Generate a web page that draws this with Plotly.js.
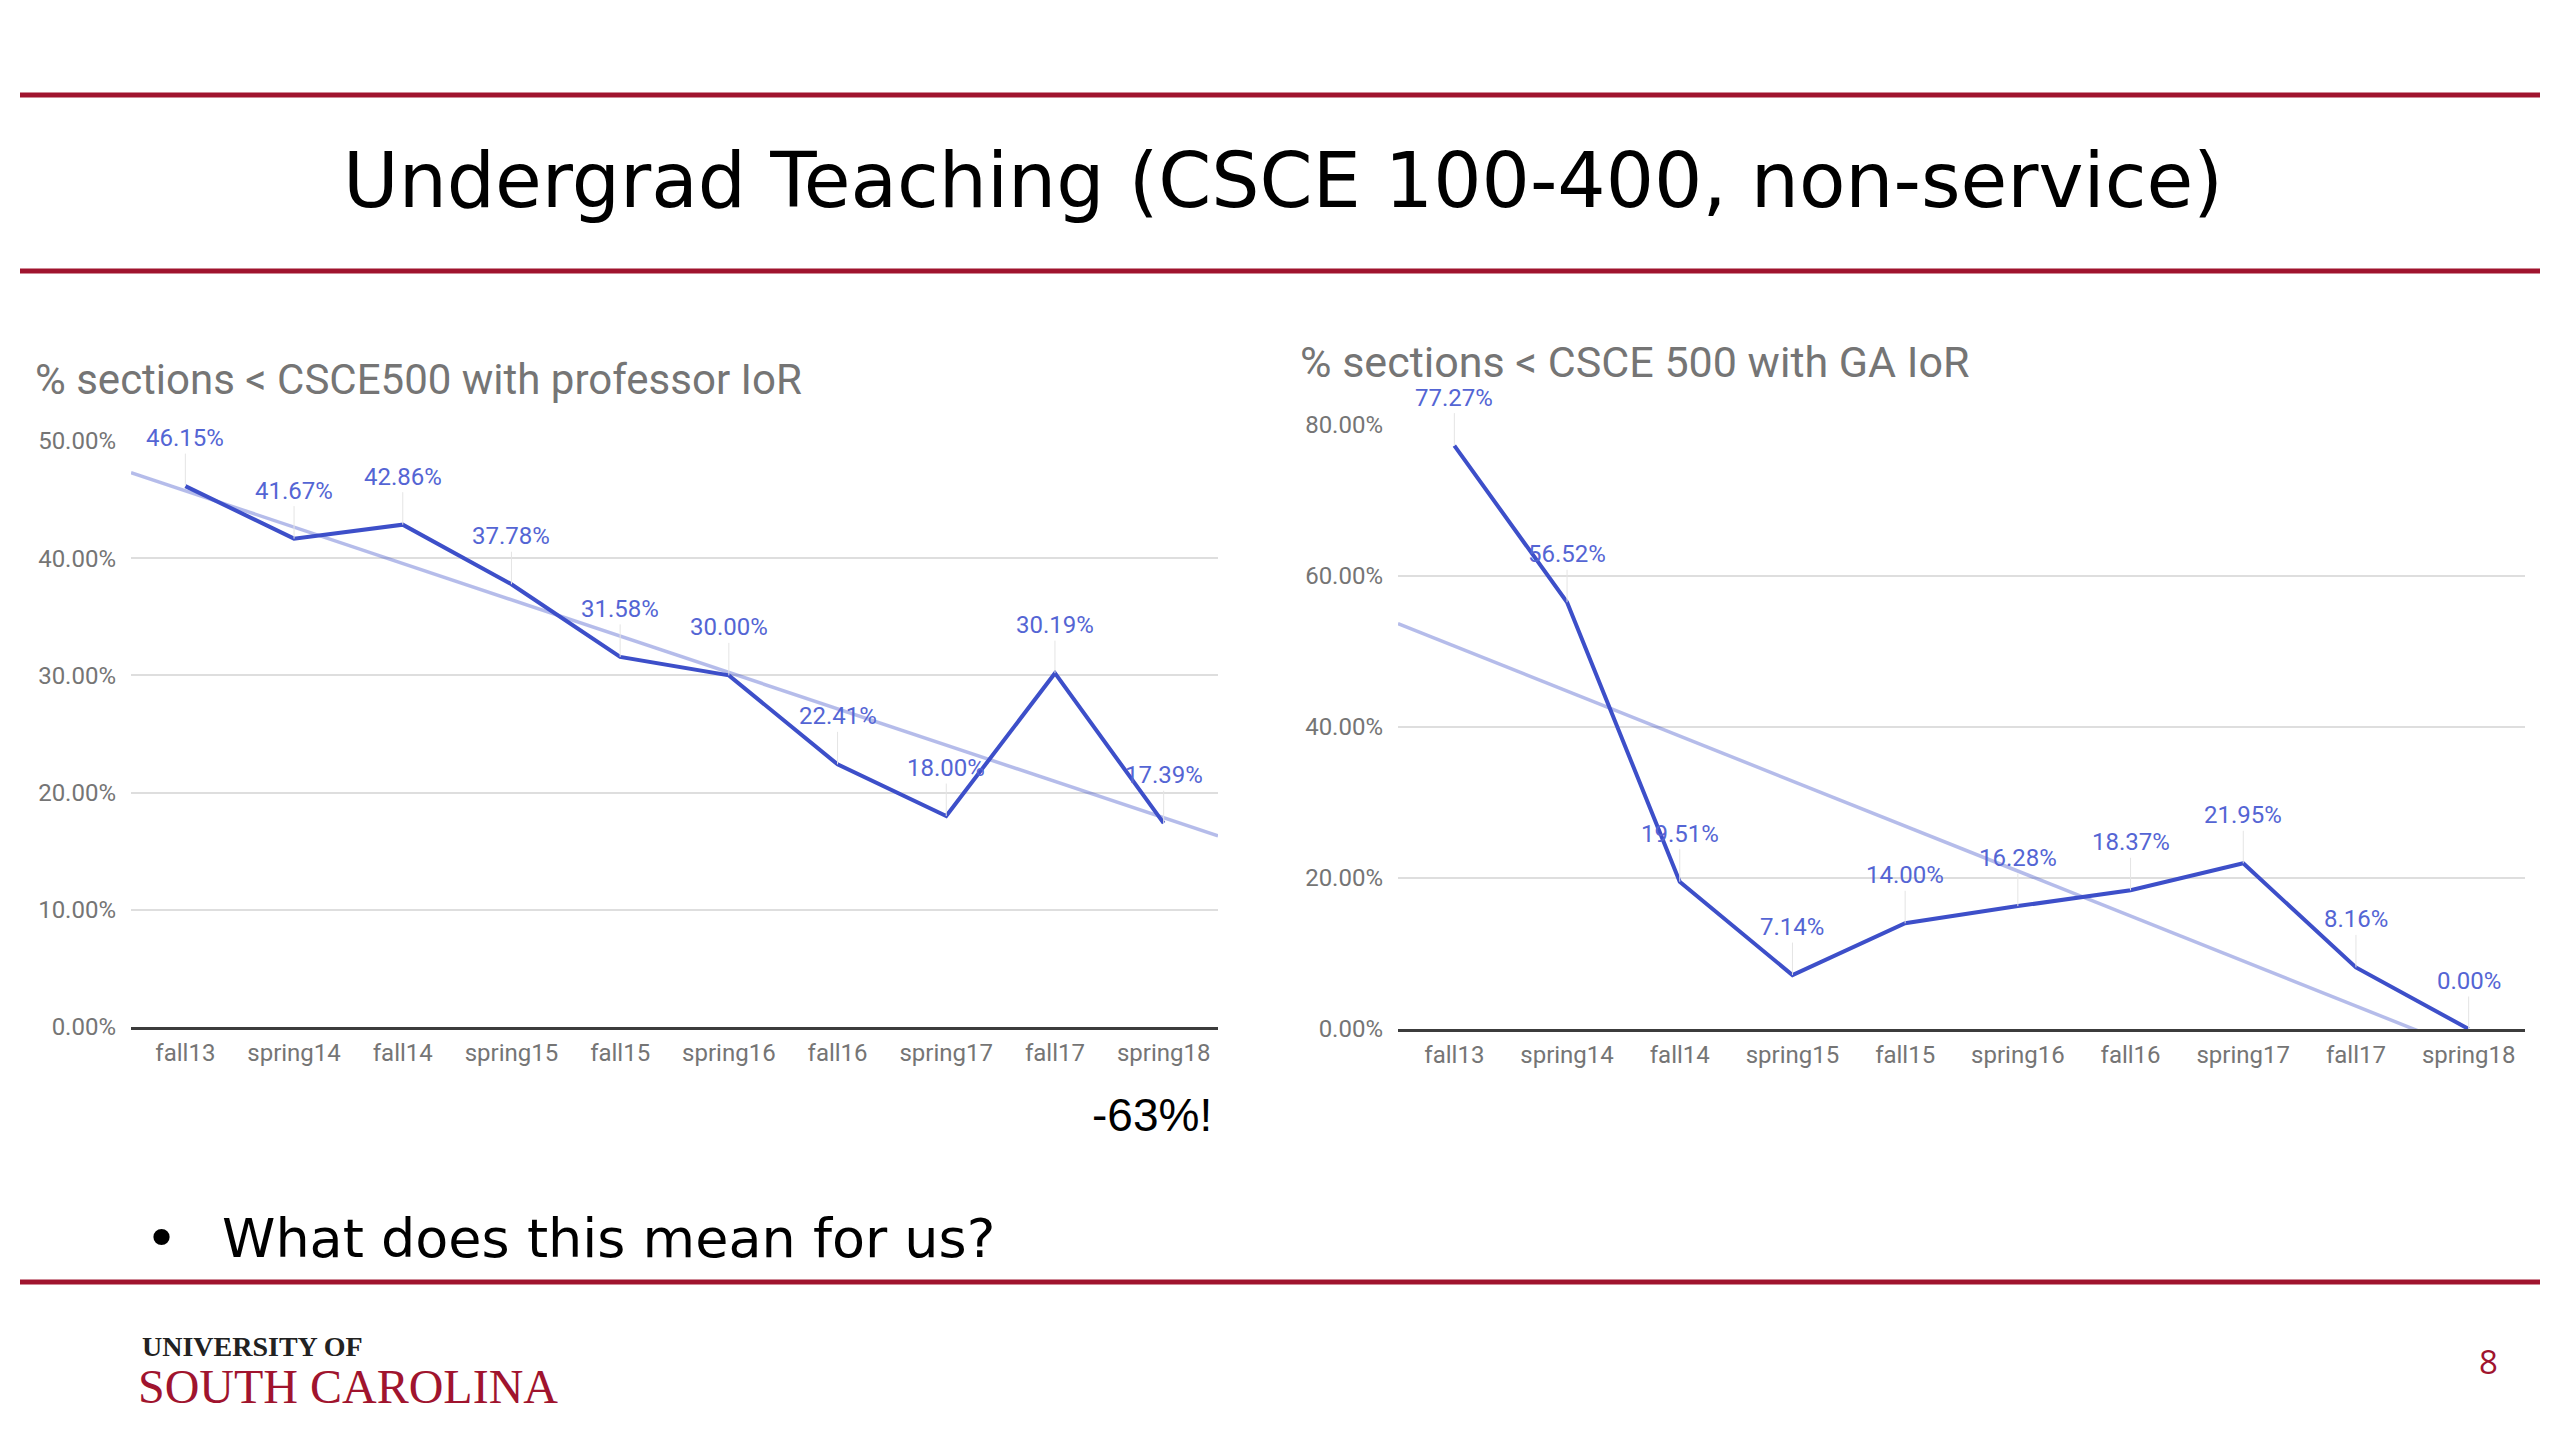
<!DOCTYPE html>
<html>
<head>
<meta charset="utf-8">
<script src="https://cdn.plot.ly/plotly-3.0.1.min.js"></script>
<style>
  html, body { margin: 0; padding: 0; background: #ffffff; }
  #slide { width: 2560px; height: 1444px; }
</style>
</head>
<body>
<div id="slide"></div>
<script>
// semesters on both charts
var terms = ['fall13', 'spring14', 'fall14', 'spring15', 'fall15', 'spring16', 'fall16', 'spring17', 'fall17', 'spring18'];

// % sections < CSCE500 with professor IoR
var profPct = [46.15, 41.67, 42.86, 37.78, 31.58, 30.00, 22.41, 18.00, 30.19, 17.39];
// % sections < CSCE 500 with GA IoR
var gaPct = [77.27, 56.52, 19.51, 7.14, 14.00, 16.28, 18.37, 21.95, 8.16, 0.00];

// trend line ends (at the left and right plot edges)
var trendX = [-0.5, 9.5];
var profTrend = [47.3, 16.3];
var gaTrend = [53.7, -5.9];

var profTicks = [0, 10, 20, 30, 40, 50];
var gaTicks = [0, 20, 40, 60, 80];

var W = 2560, H = 1444;
function px(x) { return x / W; }
function py(y) { return 1 - y / H; }

var LINE = 'rgb(61,79,201)';
var LABEL = 'rgb(84,101,212)';
var TREND = 'rgba(61,79,201,0.38)';
var GARNET = '#a0142e';

var idx = terms.map(function (t, i) { return i; });

var traces = [
    { x: trendX, y: profTrend, xaxis: 'x', yaxis: 'y', mode: 'lines', line: { color: TREND, width: 3.5 }, hoverinfo: 'skip' },
    { x: idx, y: profPct, xaxis: 'x', yaxis: 'y', mode: 'lines', line: { color: LINE, width: 4 } },
    { x: trendX, y: gaTrend, xaxis: 'x2', yaxis: 'y2', mode: 'lines', line: { color: TREND, width: 3.5 }, hoverinfo: 'skip' },
    { x: idx, y: gaPct, xaxis: 'x2', yaxis: 'y2', mode: 'lines', line: { color: LINE, width: 4 } }
];

// data labels with thin leader lines
var annotations = [];
function addLabels(vals, xr, yr) {
    vals.forEach(function (v, i) {
        annotations.push({
            x: i, y: v, xref: xr, yref: yr,
            text: v.toFixed(2) + '%',
            showarrow: true, arrowhead: 0, arrowwidth: 1, arrowcolor: '#e4e4e4',
            ax: 0, ay: -48,
            font: { family: 'Roboto', size: 24, color: LABEL }
        });
    });
}
addLabels(profPct, 'x', 'y');
addLabels(gaPct, 'x2', 'y2');

// slide texts
annotations.push(
    { xref: 'paper', yref: 'paper', x: px(1283), y: py(181), text: 'Undergrad Teaching (CSCE 100-400, non-service)',
      showarrow: false, xanchor: 'center', yanchor: 'middle', font: { family: 'DejaVu Sans', size: 76, color: '#000' } },
    { xref: 'paper', yref: 'paper', x: px(33), y: py(380), text: '% sections < CSCE500 with professor IoR',
      showarrow: false, xanchor: 'left', yanchor: 'middle', font: { family: 'Roboto', size: 42, color: '#757575' } },
    { xref: 'paper', yref: 'paper', x: px(1298), y: py(362), text: '% sections < CSCE 500 with GA IoR',
      showarrow: false, xanchor: 'left', yanchor: 'middle', font: { family: 'Roboto', size: 43, color: '#757575' } },
    { xref: 'paper', yref: 'paper', x: px(1214), y: py(1115), text: '-63%!',
      showarrow: false, xanchor: 'right', yanchor: 'middle', font: { family: 'Liberation Sans', size: 46, color: '#000' } },
    { xref: 'paper', yref: 'paper', x: px(143), y: py(1238), text: '\u2022',
      showarrow: false, xanchor: 'left', yanchor: 'middle', font: { family: 'DejaVu Sans', size: 56, color: '#000' } },
    { xref: 'paper', yref: 'paper', x: px(220), y: py(1238), text: 'What does this mean for us?',
      showarrow: false, xanchor: 'left', yanchor: 'middle', font: { family: 'DejaVu Sans', size: 54, color: '#000' } },
    { xref: 'paper', yref: 'paper', x: px(140), y: py(1346), text: '<b>UNIVERSITY OF</b>',
      showarrow: false, xanchor: 'left', yanchor: 'middle', font: { family: 'Liberation Serif', size: 28, color: '#222' } },
    { xref: 'paper', yref: 'paper', x: px(136), y: py(1386), text: 'SOUTH CAROLINA',
      showarrow: false, xanchor: 'left', yanchor: 'middle', font: { family: 'Liberation Serif', size: 48, color: GARNET } },
    { xref: 'paper', yref: 'paper', x: px(2488), y: py(1361), text: '8',
      showarrow: false, xanchor: 'center', yanchor: 'middle', font: { family: 'Open Sans', size: 33, color: GARNET } }
);

var shapes = [
    { type: 'line', xref: 'paper', yref: 'paper', x0: px(20), x1: px(2540), y0: py(95), y1: py(95), line: { color: GARNET, width: 5 } },
    { type: 'line', xref: 'paper', yref: 'paper', x0: px(20), x1: px(2540), y0: py(271), y1: py(271), line: { color: GARNET, width: 5 } },
    { type: 'line', xref: 'paper', yref: 'paper', x0: px(20), x1: px(2540), y0: py(1282), y1: py(1282), line: { color: GARNET, width: 5 } }
];

function xAxis(domain, anchor) {
    return {
        domain: domain, anchor: anchor, range: [-0.5, 9.5],
        tickvals: idx, ticktext: terms, ticks: '', ticklabelstandoff: 2,
        showgrid: false, zeroline: false, showline: true, linecolor: '#3c3c3c', linewidth: 3,
        tickfont: { family: 'Roboto', size: 24, color: '#757575' }, fixedrange: true
    };
}
function yAxis(domain, anchor, top, ticks) {
    return {
        domain: domain, anchor: anchor, range: [0, top],
        tickvals: ticks,
        ticktext: ticks.map(function (v) { return v.toFixed(2) + '%'; }),
        ticks: '', ticklabelstandoff: 14,
        showgrid: true, gridcolor: '#dedede', gridwidth: 2, zeroline: false, showline: false,
        tickfont: { family: 'Roboto', size: 24, color: '#757575' }, fixedrange: true
    };
}

var layout = {
    width: W, height: H,
    margin: { l: 0, r: 0, t: 0, b: 0 },
    paper_bgcolor: '#ffffff', plot_bgcolor: 'rgba(0,0,0,0)',
    showlegend: false,
    xaxis: xAxis([px(131), px(1218)], 'y'),
    yaxis: yAxis([py(1027), py(441)], 'x', 50, profTicks),
    xaxis2: xAxis([px(1398), px(2525)], 'y2'),
    yaxis2: yAxis([py(1029), py(425)], 'x2', 80, gaTicks),
    annotations: annotations,
    shapes: shapes
};

Plotly.newPlot('slide', traces, layout, { staticPlot: true });
</script>
</body>
</html>
